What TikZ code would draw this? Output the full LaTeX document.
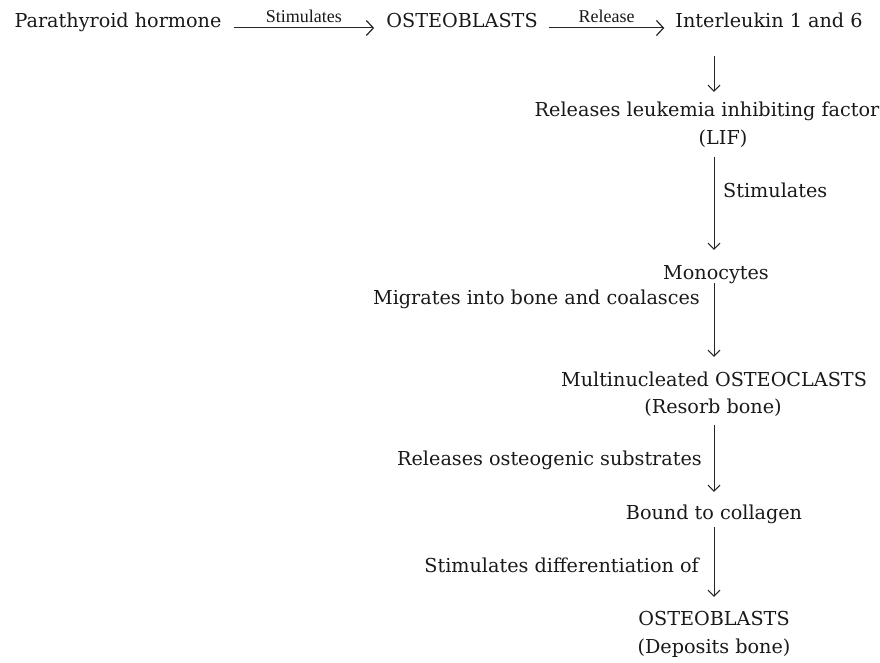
\documentclass[tikz,border=0pt]{standalone}
\usepackage{fontspec}
\setmainfont{DejaVu Serif}
\newfontfamily\lblfont{Liberation Serif}
\usetikzlibrary{arrows.meta}

\begin{document}
\begin{tikzpicture}[x=1pt,y=-1pt,
    every node/.style={inner sep=0pt,text height=14pt,text depth=4pt,
      font=\fontsize{19.2}{23}\selectfont,text=black!90},
    lbl/.style={font=\lblfont\fontsize{18}{20}\selectfont,text height=12pt,text depth=0pt},
    flow/.style={-{Straight Barb[length=6pt,width=12pt,line width=1pt]},line width=1pt,black!85},
    hflow/.style={flow,-{Straight Barb[length=7pt,width=15pt,line width=1.2pt]}}]
  \useasboundingbox (0,0) rectangle (880,663);
  \coordinate (col) at (714,0);
  % top row
  \node[anchor=base] (pth) at (118,28) {Parathyroid hormone};
  \node[anchor=base] (ob1) at (462,28) {OSTEOBLASTS};
  \node[anchor=base] (il) at (769,28) {Interleukin 1 and 6};
  \draw[hflow,shorten <=12pt,shorten >=12pt] (pth.base east) -- node[lbl,above=5pt] (st1) {Stimulates} (ob1.base west);
  \draw[hflow,shorten <=11pt,shorten >=11pt] (ob1.base east) -- node[lbl,above=5pt] (rel) {Release} (il.base west);
  % column
  \node[anchor=base] (lif1) at (707,117) {Releases leukemia inhibiting factor};
  \node[anchor=base] (lif2) at (723,145) {(LIF)};
  \node[anchor=base] (mono) at (716,279) {Monocytes};
  \node[anchor=base] (ocl1) at (714,386) {Multinucleated OSTEOCLASTS};
  \node[anchor=base] (ocl2) at (713,413) {(Resorb bone)};
  \node[anchor=base] (coll) at (714,519) {Bound to collagen};
  \node[anchor=base] (ob2) at (714,625) {OSTEOBLASTS};
  \node[anchor=base] (ob3) at (714,653) {(Deposits bone)};
  % side labels
  \node[anchor=base west] (st2) at (723,197) {Stimulates};
  \node[anchor=base east] (mig) at (700,304) {Migrates into bone and coalasces};
  \node[anchor=base east] (sub) at (702,465) {Releases osteogenic substrates};
  \node[anchor=base east] (dif) at (699,572) {Stimulates differentiation of};
  % arrows
  \draw[flow,shorten <=24pt,shorten >=11pt] (il.south -| col) -- (lif1.north -| col);
  \draw[flow,shorten <=8pt,shorten >=15pt] (lif2.south -| col) -- (mono.north -| col);
  \draw[flow,shorten >=15pt] (mono.south -| col) -- (ocl1.north -| col);
  \draw[flow,shorten <=8pt,shorten >=13pt] (ocl2.south -| col) -- (coll.north -| col);
  \draw[flow,shorten <=4pt,shorten >=14pt] (coll.south -| col) -- (ob2.north -| col);
\end{tikzpicture}
\end{document}
